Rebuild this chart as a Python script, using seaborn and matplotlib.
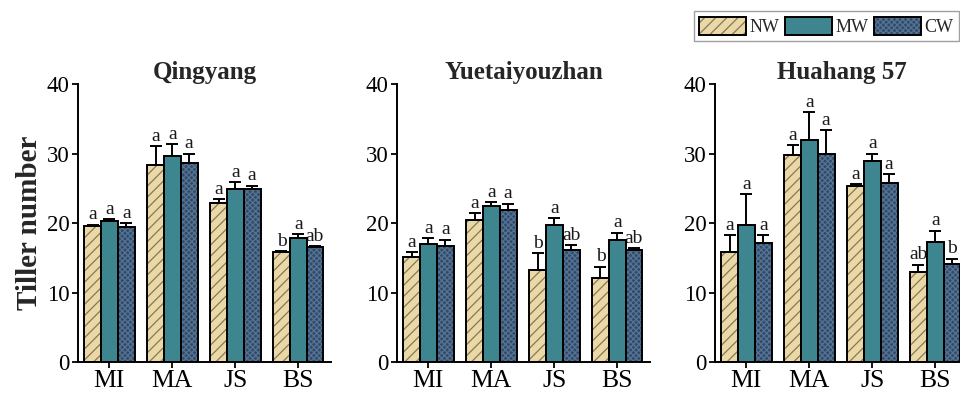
import numpy as np
import pandas as pd
import matplotlib
matplotlib.use("Agg")
import matplotlib.pyplot as plt
from matplotlib.patches import Patch, Rectangle
from matplotlib.legend_handler import HandlerTuple
import seaborn as sns

# Growth stages, water treatments and cultivars
stages = ["MI", "MA", "JS", "BS"]
treatments = ["NW", "MW", "CW"]
cultivars = ["Qingyang", "Yuetaiyouzhan", "Huahang 57"]

# Tiller number means (per treatment, across stages)
qingyang_nw = [19.6, 28.3, 22.9, 15.8]
qingyang_mw = [20.3, 29.7, 24.9, 17.8]
qingyang_cw = [19.5, 28.7, 24.9, 16.5]
yuetai_nw = [15.1, 20.5, 13.3, 12.1]
yuetai_mw = [17.0, 22.4, 19.8, 17.6]
yuetai_cw = [16.7, 21.9, 16.2, 16.1]
huahang_nw = [15.8, 29.8, 25.3, 13.0]
huahang_mw = [19.7, 32.0, 28.9, 17.3]
huahang_cw = [17.1, 30.0, 25.8, 14.1]

# Standard errors
qingyang_nw_se = [0.2, 2.8, 0.5, 0.2]
qingyang_mw_se = [0.3, 1.7, 1.0, 0.6]
qingyang_cw_se = [0.5, 1.3, 0.5, 0.2]
yuetai_nw_se = [0.7, 0.9, 2.4, 1.6]
yuetai_mw_se = [0.8, 0.6, 0.9, 1.0]
yuetai_cw_se = [0.9, 0.9, 0.6, 0.3]
huahang_nw_se = [2.5, 1.4, 0.3, 1.0]
huahang_mw_se = [4.5, 4.0, 1.1, 1.6]
huahang_cw_se = [1.2, 3.4, 1.2, 0.8]

# Significance letters
qingyang_nw_sig = ["a", "a", "a", "b"]
qingyang_mw_sig = ["a", "a", "a", "a"]
qingyang_cw_sig = ["a", "a", "a", "ab"]
yuetai_nw_sig = ["a", "a", "b", "b"]
yuetai_mw_sig = ["a", "a", "a", "a"]
yuetai_cw_sig = ["a", "a", "ab", "ab"]
huahang_nw_sig = ["a", "a", "a", "ab"]
huahang_mw_sig = ["a", "a", "a", "a"]
huahang_cw_sig = ["a", "a", "a", "b"]

means = {
    "Qingyang": [qingyang_nw, qingyang_mw, qingyang_cw],
    "Yuetaiyouzhan": [yuetai_nw, yuetai_mw, yuetai_cw],
    "Huahang 57": [huahang_nw, huahang_mw, huahang_cw],
}
errors = {
    "Qingyang": [qingyang_nw_se, qingyang_mw_se, qingyang_cw_se],
    "Yuetaiyouzhan": [yuetai_nw_se, yuetai_mw_se, yuetai_cw_se],
    "Huahang 57": [huahang_nw_se, huahang_mw_se, huahang_cw_se],
}
letters = {
    "Qingyang": [qingyang_nw_sig, qingyang_mw_sig, qingyang_cw_sig],
    "Yuetaiyouzhan": [yuetai_nw_sig, yuetai_mw_sig, yuetai_cw_sig],
    "Huahang 57": [huahang_nw_sig, huahang_mw_sig, huahang_cw_sig],
}

sns.set_theme(style="ticks")
plt.rcParams["font.family"] = ["Liberation Serif", "DejaVu Serif"]
plt.rcParams["hatch.linewidth"] = 0.9

face = {"NW": "#EAD8A6", "MW": "#3D8690", "CW": "#2E4B6C"}
hatch = {"NW": "///", "MW": None, "CW": "xxxxxx"}
hatch_col = {"NW": "#857859", "MW": "black", "CW": "#587392"}

fig = plt.figure(figsize=(9.6, 3.97), dpi=100)
lefts = [78 / 960, 397 / 960, 715 / 960]
width_ax = 253 / 960
bottom, height = 0.088, 0.700

for k, cult in enumerate(cultivars):
    ax = fig.add_axes([lefts[k], bottom, width_ax, height])
    rows = []
    for t, vals in zip(treatments, means[cult]):
        for s, v in zip(stages, vals):
            rows.append({"stage": s, "treatment": t, "value": v})
    df = pd.DataFrame(rows)
    sns.barplot(data=df, x="stage", y="value", hue="treatment",
                order=stages, hue_order=treatments, palette=face,
                errorbar=None, width=0.8, gap=0, saturation=1,
                legend=False, ax=ax)

    for ti, (t, cont) in enumerate(zip(treatments, ax.containers)):
        xs = []
        for p in cont.patches:
            xs.append(p.get_x() + p.get_width() / 2)
            if hatch[t]:
                p.set_hatch(hatch[t])
                p.set_edgecolor(hatch_col[t])
                p.set_linewidth(0)
                ax.add_patch(Rectangle(p.get_xy(), p.get_width(), p.get_height(),
                                       fill=False, edgecolor="black", lw=1.4,
                                       zorder=p.get_zorder() + 0.1))
            else:
                p.set_edgecolor("black")
                p.set_linewidth(1.4)
        vals = np.array(means[cult][ti])
        se = np.array(errors[cult][ti])
        ax.errorbar(xs, vals, yerr=[np.zeros_like(se), se], fmt="none",
                    ecolor="black", elinewidth=1.4, capsize=4.5,
                    capthick=1.4, zorder=3)
        for x, v, e, lab in zip(xs, vals, se, letters[cult][ti]):
            ax.text(x, v + e + 0.2, lab, ha="center", va="bottom",
                    fontsize=14, color="#1a1a1a", zorder=0.5)

    ax.set_xlim(-0.5, 3.52)
    ax.set_ylim(0, 40)
    ax.set_yticks([0, 10, 20, 30, 40])
    ax.set_xlabel("")
    ax.set_ylabel("")
    ax.set_title(cult, fontsize=18, fontweight="bold", pad=4)
    for side in ["top", "right"]:
        ax.spines[side].set_visible(False)
    for side in ["left", "bottom"]:
        ax.spines[side].set_linewidth(1.4)
        ax.spines[side].set_color("black")
    ax.tick_params(axis="both", direction="out", length=4, width=1.3,
                   color="black", labelcolor="black", pad=2)
    ax.tick_params(axis="y", labelsize=16.5)
    ax.tick_params(axis="x", labelsize=18.5)
    ax.set_facecolor("none")
    if k == 0:
        ax.set_ylabel("Tiller number", fontsize=21, fontweight="bold", labelpad=3)

# Legend with hatched swatches outlined in black
handles = []
for t in treatments:
    fill = Patch(facecolor=face[t], edgecolor=hatch_col[t], hatch=hatch[t], linewidth=0)
    outline = Patch(facecolor="none", edgecolor="black", linewidth=1.4)
    handles.append((fill, outline))
fig.legend(handles, treatments, handler_map={tuple: HandlerTuple(ndivide=1)},
           loc="upper right", bbox_to_anchor=(0.999, 0.972), ncol=3,
           fontsize=13, frameon=True, fancybox=False, edgecolor="#888888",
           handlelength=2.6, handleheight=1.2, handletextpad=0.2,
           columnspacing=0.3, borderpad=0.3, borderaxespad=0)

fig.savefig("out.png", dpi=100)
